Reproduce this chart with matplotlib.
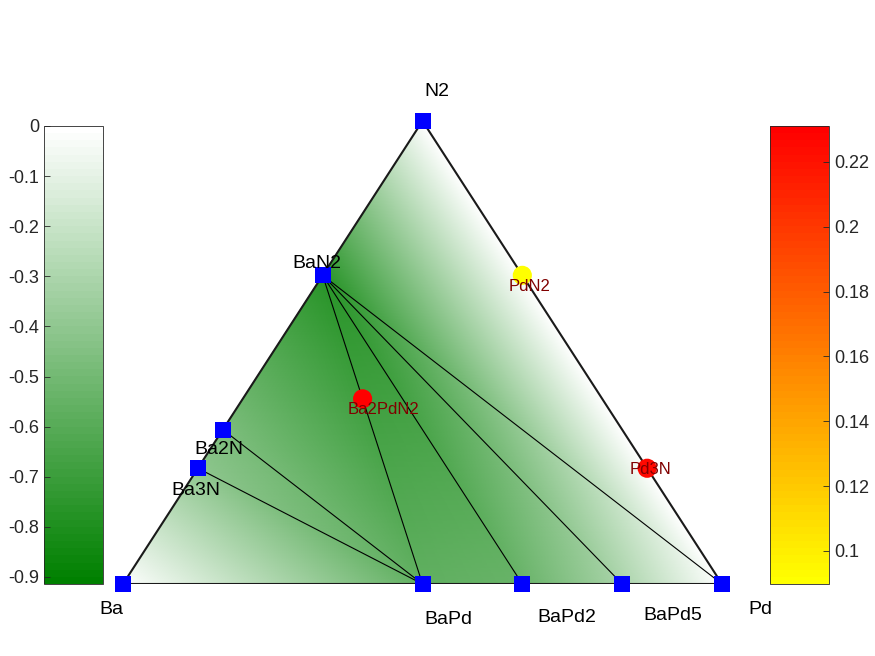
import matplotlib
matplotlib.use('Agg')
import matplotlib.pyplot as plt
import matplotlib.tri as mtri
from matplotlib.colors import LinearSegmentedColormap, Normalize

plt.rcParams['font.family'] = ['Liberation Sans', 'DejaVu Sans']
plt.rcParams['axes.unicode_minus'] = False

# stable phases: composition fractions (Ba, Pd, N) and formation energy (eV/atom)
stable_names = ['Ba', 'Pd', 'N2', 'BaN2', 'Ba2N', 'Ba3N', 'BaPd', 'BaPd2', 'BaPd5']
stable_ba = [1.0, 0.0, 0.0, 1/3, 2/3, 0.75, 0.5, 1/3, 1/6]
stable_pd = [0.0, 1.0, 0.0, 0.0, 0.0, 0.0, 0.5, 2/3, 5/6]
stable_n = [0.0, 0.0, 1.0, 2/3, 1/3, 0.25, 0.0, 0.0, 0.0]
stable_e = [0.0, 0.0, 0.0, -0.76, -0.46, -0.40, -0.57, -0.53, -0.30]

# unstable phases: composition and energy above hull (eV/atom)
unstable_names = ['Ba2PdN2', 'PdN2', 'Pd3N']
unstable_ba = [0.4, 0.0, 0.0]
unstable_pd = [0.2, 1/3, 0.75]
unstable_n = [0.4, 2/3, 0.25]
unstable_e = [0.2311, 0.0898, 0.226]

# hull facets and tie lines
facets = [('N2', 'BaN2', 'Pd'), ('BaN2', 'BaPd5', 'Pd'), ('BaN2', 'BaPd2', 'BaPd5'),
          ('BaN2', 'BaPd', 'BaPd2'), ('BaN2', 'Ba2N', 'BaPd'), ('Ba2N', 'Ba3N', 'BaPd'),
          ('Ba3N', 'Ba', 'BaPd')]
tie_lines = [('BaN2', 'BaPd'), ('BaN2', 'BaPd2'), ('BaN2', 'BaPd5'), ('BaN2', 'Pd'),
             ('Ba2N', 'BaPd'), ('Ba3N', 'BaPd')]
edges = [('Ba', 'Pd'), ('Pd', 'N2'), ('N2', 'Ba')]

# label offsets in pixels
stable_off = {'Ba': (-12, -26), 'Pd': (38, -25), 'N2': (14, 30), 'BaN2': (-6, 12),
              'Ba2N': (-4, -20), 'Ba3N': (-2, -22), 'BaPd': (26, -35),
              'BaPd2': (44, -33), 'BaPd5': (51, -31)}
unstable_off = {'Ba2PdN2': (21, -11), 'PdN2': (7, -11), 'Pd3N': (3, -1)}

e_min, e_max = -0.914, 0.0


def tern(pd, n):
    return pd + 0.5 * n, n


sx = [tern(p, n)[0] for p, n in zip(stable_pd, stable_n)]
sy = [tern(p, n)[1] for p, n in zip(stable_pd, stable_n)]
ux = [tern(p, n)[0] for p, n in zip(unstable_pd, unstable_n)]
uy = [tern(p, n)[1] for p, n in zip(unstable_pd, unstable_n)]
idx = {name: i for i, name in enumerate(stable_names)}

fig = plt.figure(figsize=(8.75, 6.56), dpi=100)
ax = fig.add_axes([123/875, 72/656, 599/875, 463/656])
ax.set_xlim(0, 1)
ax.set_ylim(0, 1)
ax.axis('off')

greens = LinearSegmentedColormap.from_list('gr', [(0, 0.5, 0), (1, 1, 1)], N=64)
reds = LinearSegmentedColormap.from_list('yr', [(1, 1, 0), (1, 0, 0)], N=64)

tri = mtri.Triangulation(sx, sy, [[idx[a], idx[b], idx[c]] for a, b, c in facets])
tp = ax.tripcolor(tri, stable_e, cmap=greens, shading='gouraud', vmin=e_min, vmax=e_max)

for a, b in tie_lines:
    ax.plot([sx[idx[a]], sx[idx[b]]], [sy[idx[a]], sy[idx[b]]], color='black', lw=0.8, zorder=3)
for a, b in edges:
    ax.plot([sx[idx[a]], sx[idx[b]]], [sy[idx[a]], sy[idx[b]]], color='#1a1a1a', lw=1.5, zorder=3)

ax.plot(sx, sy, 's', color='blue', markersize=11, markeredgewidth=0, zorder=5, clip_on=False)
for i, name in enumerate(stable_names):
    dx, dy = stable_off[name]
    ax.annotate(name, (sx[i], sy[i]), xytext=(dx * 0.72, dy * 0.72), textcoords='offset points',
                ha='center', va='center', fontsize=14, color='black', zorder=6)

rnorm = Normalize(vmin=min(unstable_e), vmax=max(unstable_e))
sc = ax.scatter(ux, uy, c=unstable_e, cmap=reds, norm=rnorm, s=190, edgecolors='none', zorder=5)
for i, name in enumerate(unstable_names):
    dx, dy = unstable_off[name]
    ax.annotate(name, (ux[i], uy[i]), xytext=(dx * 0.72, dy * 0.72), textcoords='offset points',
                ha='center', va='center', fontsize=12, color='#800000', zorder=6)

# left colorbar
cax1 = fig.add_axes([44/875, 72/656, 59/875, 458/656])
cb1 = fig.colorbar(tp, cax=cax1)
cb1.set_ticks([0, -0.1, -0.2, -0.3, -0.4, -0.5, -0.6, -0.7, -0.8, -0.9])
cb1.set_ticklabels(['0', '-0.1', '-0.2', '-0.3', '-0.4', '-0.5', '-0.6', '-0.7', '-0.8', '-0.9'])
cax1.yaxis.set_ticks_position('left')
cax1.tick_params(direction='in', labelsize=13, length=4, width=0.6, colors='#262626')
cb1.outline.set_linewidth(0.6)
cb1.outline.set_edgecolor('#262626')

# right colorbar
cax2 = fig.add_axes([770/875, 72/656, 59/875, 458/656])
cb2 = fig.colorbar(sc, cax=cax2)
cb2.set_ticks([0.1, 0.12, 0.14, 0.16, 0.18, 0.2, 0.22])
cb2.set_ticklabels(['0.1', '0.12', '0.14', '0.16', '0.18', '0.2', '0.22'])
cax2.tick_params(direction='in', labelsize=13, length=4, width=0.6, colors='#262626')
cb2.outline.set_linewidth(0.6)
cb2.outline.set_edgecolor('#262626')

fig.savefig('out.png', dpi=100, facecolor='white')
